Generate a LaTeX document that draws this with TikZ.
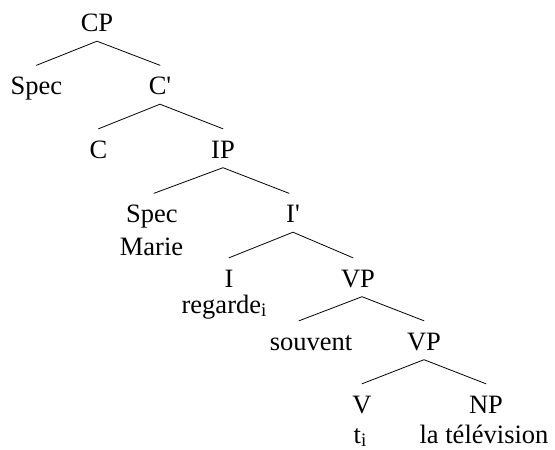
\documentclass[tikz,border=0pt]{standalone}
\usepackage{fontspec}
\setmainfont{Liberation Serif}
\newcommand{\idx}{\raisebox{-3pt}{\fontsize{19}{19}\selectfont i}}
\newcommand{\barprime}{\textquotesingle}
\tikzset{
  cat/.style={anchor=base, inner sep=0pt, text height=29pt, text depth=9.5pt,
    font=\fontsize{26.5}{28}\selectfont},
  word/.style={anchor=base, inner sep=0pt, font=\fontsize{26.5}{28}\selectfont},
  branch/.style={line width=0.8pt, line cap=round}
}

\begin{document}
\begin{tikzpicture}[x=1pt, y=-1pt, line join = round]
    \useasboundingbox (0,0) rectangle (555,450);
    % categories, one row per level
    \node[cat] (cp) at (97,31.5) {CP};
    \node[cat] (spec1) at (36.5,94.5) {Spec};
    \node[cat] (cbar) at (160,94.5) {C\barprime};
    \node[cat] (c) at (98.5,158) {C};
    \node[cat] (ip) at (223,158) {IP};
    \node[cat] (spec2) at (152,222.5) {Spec};
    \node[cat] (ibar) at (293,222.5) {I\barprime};
    \node[cat] (i) at (229,287) {I};
    \node[cat] (vp1) at (358,287) {VP};
    \node[cat] (souvent) at (311,350) {souvent};
    \node[cat] (vp2) at (424,350) {VP};
    \node[cat] (v) at (362,413) {V};
    \node[cat] (np) at (486,413) {NP};
    % words under the heads
    \node[word] (marie) at (151.5,255) {Marie};
    \node[word] (regarde) at (224,313) {regarde\idx};
    \node[word] (trace) at (360,443) {t\idx};
    \node[word] (tele) at (484,443) {la télévision};
    % branches
    \draw[branch] (spec1.north) -- (cp.south) -- (cbar.north);
    \draw[branch] (c.north) -- (cbar.south) -- (ip.north);
    \draw[branch] ([xshift=2pt]spec2.north) -- (ip.south) -- ([xshift=-4pt]ibar.north);
    \draw[branch] (i.north) -- (ibar.south) -- ([xshift=-5pt]vp1.north);
    \draw[branch] ([xshift=-12pt]souvent.north) -- ([xshift=4pt]vp1.south) -- (vp2.north);
    \draw[branch] (v.north) -- (vp2.south) -- (np.north);
\end{tikzpicture}
\end{document}
